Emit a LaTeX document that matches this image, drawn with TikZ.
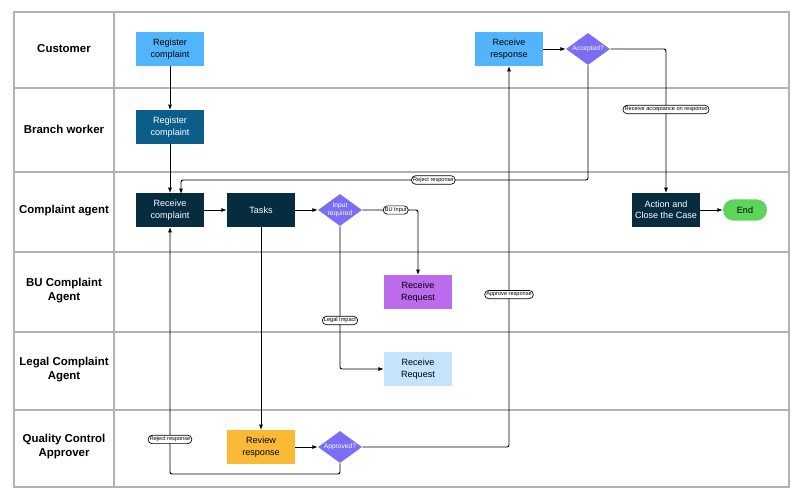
\documentclass[tikz,border=0pt]{standalone}
\usepackage{fontspec}
\setmainfont{Liberation Sans}
\usetikzlibrary{shapes.geometric,arrows.meta}
\definecolor{custblue}{HTML}{52B5FC}
\definecolor{branchblue}{HTML}{0B5E8A}
\definecolor{agentdark}{HTML}{062D3F}
\definecolor{decision}{HTML}{7B6EF6}
\definecolor{bupurple}{HTML}{BC6BEC}
\definecolor{legalblue}{HTML}{C5E3FA}
\definecolor{review}{HTML}{FBBA35}
\definecolor{endgreen}{HTML}{5DD55A}
\tikzset{
  task/.style={minimum width=51pt, minimum height=25pt, align=center, font=\fontsize{6.8}{8.5}\selectfont, inner sep=1pt},
  gate/.style={diamond, fill=decision, text=white, minimum width=33pt, minimum height=24pt, inner sep=0pt, font=\fontsize{5}{6}\selectfont, align=center, aspect=1.4},
  pill/.style={draw, line width=0.5pt, rounded corners=3pt, fill=white, inner sep=1.2pt, font=\fontsize{4.2}{5}\selectfont},
  lane/.style={font=\bfseries\fontsize{8.6}{10.5}\selectfont, align=center},
  flow/.style={line width=0.7pt, -{Latex[length=4pt,width=3pt]}, rounded corners=1.5pt}
}
\begin{document}
\begin{tikzpicture}[x=0.75pt, y=-0.75pt]
        % swimlane grid
        \useasboundingbox (0,0) rectangle (800,497);
        \draw[gray!60, line width=0.8pt] (14,12) rectangle (789,487);
        \draw[gray!60, line width=0.8pt] (114,12) -- (114,487);
        \foreach \y in {88,172,252,332,410} {
            \draw[gray!60, line width=0.8pt] (14,\y) -- (789,\y);
        }
        \node[lane] at (64,49) {Customer};
        \node[lane] at (64,129) {Branch worker};
        \node[lane] at (64,211) {Complaint agent};
        \node[lane] at (64,291) {BU Complaint\\Agent};
        \node[lane] at (64,370) {Legal Complaint\\Agent};
        \node[lane] at (64,447) {Quality Control\\Approver};
        % tasks
        \node[task, fill=custblue] (regcust) at (170,49) {Register\\complaint};
        \node[task, fill=branchblue, text=white] (regbranch) at (170,127) {Register\\complaint};
        \node[task, fill=agentdark, text=white] (receive) at (170,210) {Receive\\complaint};
        \node[task, fill=agentdark, text=white] (tasks) at (261,210) {Tasks};
        \node[gate] (input) at (340,210) {Input\\required};
        \node[task, fill=bupurple] (burequest) at (418,292) {Receive\\Request};
        \node[task, fill=legalblue] (legalrequest) at (418,369) {Receive\\Request};
        \node[task, fill=review] (review) at (261,447) {Review\\response};
        \node[gate] (approved) at (340,447) {Approved?};
        \node[task, fill=custblue] (response) at (509,49) {Receive\\response};
        \node[gate] (accepted) at (588,49) {Accepted?};
        \node[task, fill=agentdark, text=white] (close) at (666,210) {Action and\\Close the Case};
        \node[fill=endgreen, rounded corners=8pt, minimum width=33pt, minimum height=16pt, font=\fontsize{6.8}{8}\selectfont] (end) at (745,210) {End};
        % connectors
        \draw[flow] (regcust) -- (regbranch);
        \draw[flow] (regbranch) -- (receive);
        \draw[flow] (receive) -- (tasks);
        \draw[flow] (tasks) -- (input);
        \draw[flow] (input.east) -| node[pill, pos=0.3] {BU Input} (burequest);
        \draw[flow] (input.south) |- node[pill, pos=0.33] {Legal Impact} (legalrequest);
        \draw[flow] (tasks) -- (review);
        \draw[flow] (review) -- (approved);
        \draw[flow] (approved.east) -| node[pill, pos=0.7] {Approve response} (response);
        \draw[flow] (approved.south) -- (340,474) -| node[pill, pos=0.57] {Reject response} (receive.south);
        \draw[flow] (response) -- (accepted);
        \draw[flow] (accepted.south) |- node[pill, pos=0.69] {Reject response} (181,180) -- (181,194);
        \draw[flow] (accepted.east) -| node[pill, pos=0.71] {Receive acceptance on response} (close);
        \draw[flow] (close) -- (end);
    \end{tikzpicture}
\end{document}
